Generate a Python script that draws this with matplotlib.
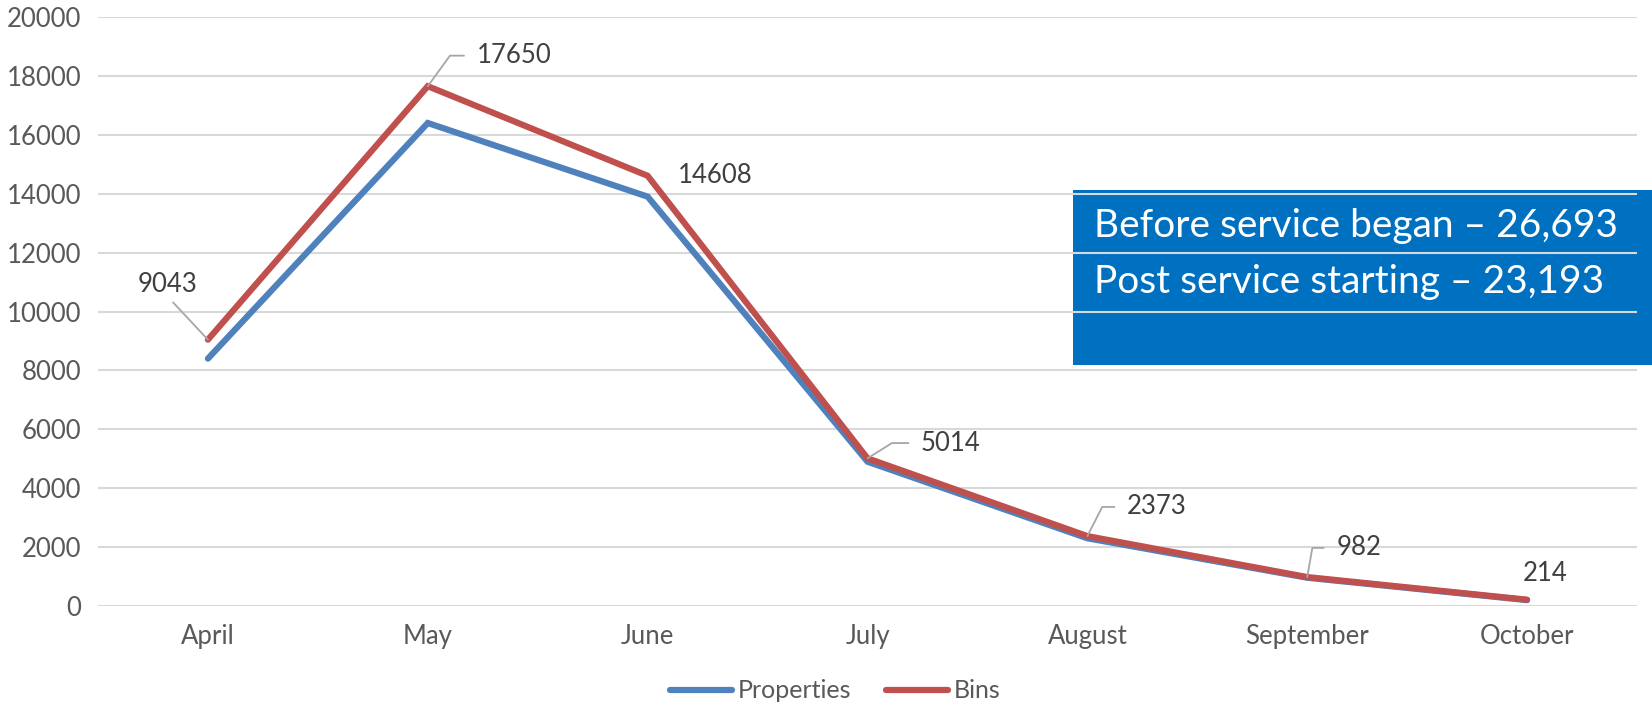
import matplotlib.pyplot as plt
from matplotlib.patches import Rectangle

plt.rcParams['font.family'] = ['Lato', 'DejaVu Sans']

# data
months = ['April', 'May', 'June', 'July', 'August', 'September', 'October']
properties = [8400, 16400, 13900, 4900, 2300, 960, 200]
bins = [9043, 17650, 14608, 5014, 2373, 982, 214]
y_ticks = [0, 2000, 4000, 6000, 8000, 10000, 12000, 14000, 16000, 18000, 20000]
box_lines = ['Before service began \u2013 26,693', 'Post service starting \u2013 23,193']

# label placement (offset in points, leader angle or None)
label_pos = [(-29, 40, 'straight'), (62, 22, 54), (49, 0, None), (60, 11, 32),
             (50, 21, 63), (37, 21, 80), (13, 19, None)]

fig = plt.figure(figsize=(16.52, 7.02), dpi=100)
ax = fig.add_axes([98 / 1652, 1 - 606 / 702, (1637 - 98) / 1652, (606 - 17) / 702])
ax.set_facecolor('none')

# blue callout box behind the chart
fig.patches.append(Rectangle((1073 / 1652, 1 - 365 / 702), 1 - 1073 / 1652, 175 / 702,
                             transform=fig.transFigure, facecolor='#0070C0',
                             edgecolor='none', zorder=-1))
fig.text(1094 / 1652, 1 - 226 / 702, box_lines[0], color='white', fontsize=28, va='center')
fig.text(1094 / 1652, 1 - 282 / 702, box_lines[1], color='white', fontsize=28, va='center')

x = range(len(months))
ax.plot(x, properties, color='#4F81BD', lw=4.5, solid_capstyle='round',
        solid_joinstyle='miter', label='Properties', zorder=3)
ax.plot(x, bins, color='#C0504D', lw=4.5, solid_capstyle='round',
        solid_joinstyle='miter', label='Bins', zorder=4)

for i, (v, (dx, dy, lead)) in enumerate(zip(bins, label_pos)):
    kw = {}
    if lead == 'straight':
        kw['arrowprops'] = dict(arrowstyle='-', color='#a6a6a6', lw=1.3,
                                relpos=(0.5, 0), shrinkA=3, shrinkB=0)
    elif lead is not None:
        kw['arrowprops'] = dict(arrowstyle='-', color='#a6a6a6', lw=1.3,
                                relpos=(0, 0.5), shrinkA=7, shrinkB=0,
                                connectionstyle=f'angle,angleA=0,angleB={lead},rad=0')
    ax.annotate(str(v), (i, v), xytext=(dx, dy), textcoords='offset points',
                ha='center', va='center', fontsize=18.5, color='#404040', zorder=5, **kw)

ax.set_xlim(-0.5, len(months) - 0.5)
ax.set_ylim(0, 20000)
ax.set_xticks(list(x))
ax.set_xticklabels(months)
ax.set_yticks(y_ticks)
ax.tick_params(length=0, labelsize=18.5, labelcolor='#595959')
ax.tick_params(axis='y', pad=12)
ax.tick_params(axis='x', pad=13)
ax.grid(axis='y', color='#d9d9d9', lw=1.5, zorder=0)
ax.set_axisbelow(True)
for s in ax.spines.values():
    s.set_visible(False)

fig.legend(loc='center', bbox_to_anchor=(835 / 1652, 1 - 691 / 702), ncol=2,
           frameon=False, fontsize=18, handlelength=2.5, columnspacing=1.4,
           handletextpad=0.2, labelcolor='#595959')

fig.savefig('out.png', dpi=100)
